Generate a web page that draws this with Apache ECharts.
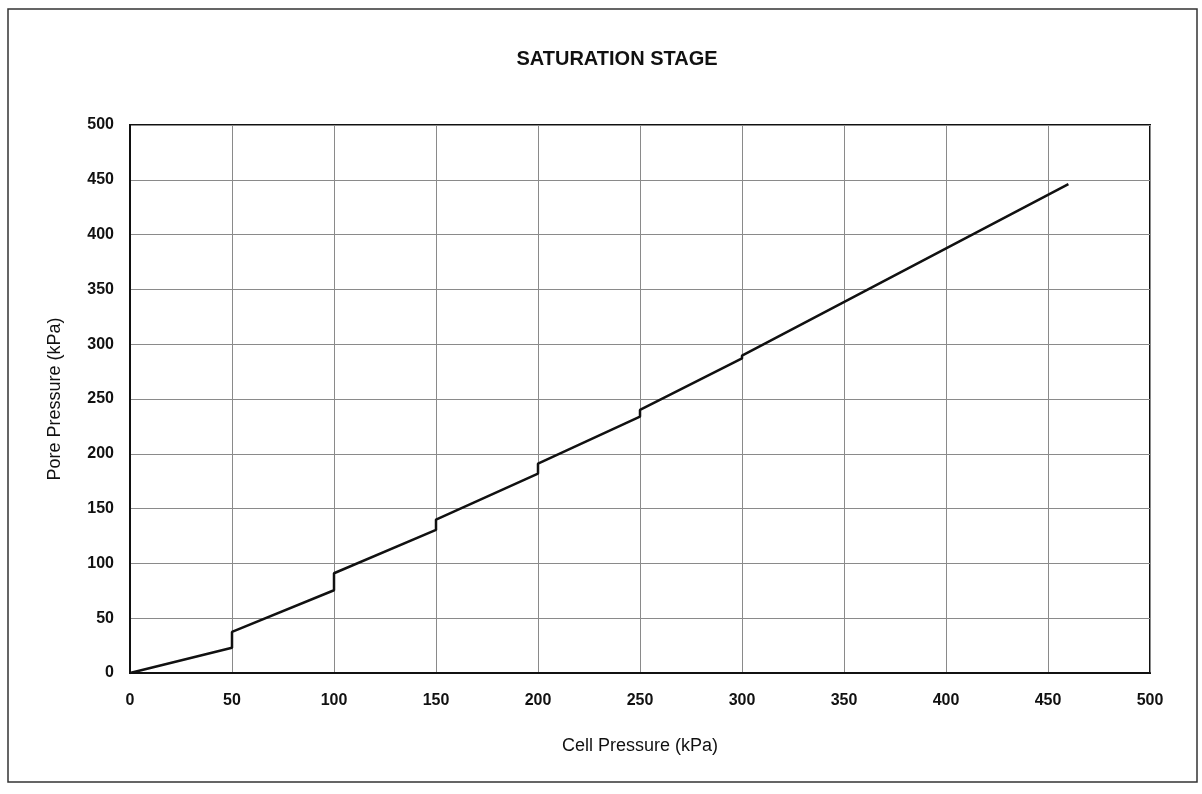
<!DOCTYPE html>
<html>
<head>
<meta charset="utf-8">
<title>Saturation Stage</title>
<script src="https://cdn.jsdelivr.net/npm/echarts@6/dist/echarts.min.js"></script>
<style>
  html, body { margin: 0; padding: 0; background: #fff; }
  #chart { width: 1202px; height: 794px; }
</style>
</head>
<body>
<div id="chart"></div>
<script>
// Cell pressure steps (kPa) and the pore pressure measured at each vertex
const cellPressure = [0, 50, 50, 100, 100, 150, 150, 200, 200, 250, 250, 300, 300, 460];
const porePressure = [0, 23, 37.5, 75.5, 91, 130.5, 140, 182, 191, 234, 240, 287, 289.5, 446];

const xTicks = [0, 50, 100, 150, 200, 250, 300, 350, 400, 450, 500];
const yTicks = [0, 50, 100, 150, 200, 250, 300, 350, 400, 450, 500];

const points = cellPressure.map((c, i) => [c, porePressure[i]]);

const FONT = '"Liberation Sans", Arial, sans-serif';

const chart = echarts.init(document.getElementById('chart'), null, { renderer: 'canvas' });

chart.setOption({
  animation: false,
  backgroundColor: '#ffffff',
  title: {
    text: 'SATURATION STAGE',
    left: 612,
    top: 44,
    textAlign: 'center',
    textStyle: { fontFamily: FONT, fontSize: 20, fontWeight: 'bold', color: '#111' }
  },
  graphic: [
    {
      type: 'rect',
      shape: { x: 8, y: 9, width: 1189, height: 773 },
      style: { fill: 'none', stroke: '#333', lineWidth: 1.5 },
      silent: true
    }
  ],
  grid: {
    left: 130,
    top: 125,
    width: 1020,
    height: 548,
    show: true,
    borderColor: '#111',
    borderWidth: 2,
    backgroundColor: 'transparent'
  },
  xAxis: {
    type: 'value',
    min: xTicks[0],
    max: xTicks[xTicks.length - 1],
    interval: 50,
    name: 'Cell Pressure (kPa)',
    nameLocation: 'middle',
    nameGap: 64,
    nameTextStyle: { fontFamily: FONT, fontSize: 18, color: '#111' },
    axisLine: { show: true, lineStyle: { color: '#111', width: 2 } },
    axisTick: { show: false },
    axisLabel: {
      fontFamily: FONT, fontSize: 16, fontWeight: 'bold', color: '#111', margin: 20
    },
    splitLine: { show: true, lineStyle: { color: '#8a8a8a', width: 1 } }
  },
  yAxis: {
    type: 'value',
    min: yTicks[0],
    max: yTicks[yTicks.length - 1],
    interval: 50,
    name: 'Pore Pressure (kPa)',
    nameLocation: 'middle',
    nameGap: 66,
    nameRotate: 90,
    nameTextStyle: { fontFamily: FONT, fontSize: 18, color: '#111' },
    axisLine: { show: true, lineStyle: { color: '#111', width: 2 } },
    axisTick: { show: false },
    axisLabel: {
      fontFamily: FONT, fontSize: 16, fontWeight: 'bold', color: '#111', margin: 16
    },
    splitLine: { show: true, lineStyle: { color: '#8a8a8a', width: 1 } }
  },
  series: [
    {
      type: 'line',
      data: points,
      showSymbol: false,
      symbol: 'none',
      lineStyle: { color: '#111', width: 2.5 },
      z: 5
    }
  ]
});
</script>
</body>
</html>
